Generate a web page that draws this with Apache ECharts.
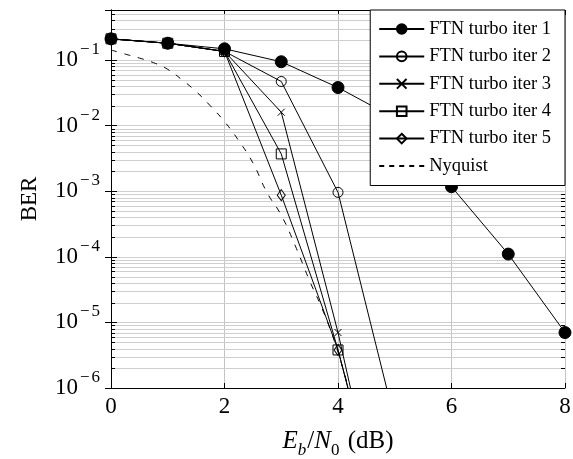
<!DOCTYPE html>
<html>
<head>
<meta charset="utf-8">
<script src="https://cdn.jsdelivr.net/npm/echarts@6/dist/echarts.min.js"></script>
<style>
html, body { margin: 0; padding: 0; background: #fff; }
#chart { width: 573px; height: 459px; }
</style>
</head>
<body>
<div id="chart"></div>
<script>
// Eb/N0 points (dB) for the turbo iterations
var ebno = [0, 1, 2, 3, 4, 5, 6, 7, 8];
var iter1 = [0.21, 0.18, 0.148, 0.094, 0.038, 0.013, 1.17e-3, 1.1e-4, 7.0e-6];
var iter2 = [0.21, 0.18, 0.135, 0.047, 9.6e-4, 3.2e-7];
var iter3 = [0.21, 0.18, 0.135, 0.016, 7.0e-6, 1e-9];
var iter4 = [0.21, 0.18, 0.135, 3.7e-3, 3.8e-6, 1.9e-9];
var iter5 = [0.21, 0.18, 0.135, 8.7e-4, 3.8e-6, 1.9e-9];

// Nyquist reference curve
var nyqX = [0, 0.25, 0.5, 0.75, 1, 1.25, 1.5, 1.75, 2, 2.25, 2.5, 2.75, 3, 3.25, 3.5, 3.75, 4, 4.25];
var nyqBer = [0.142, 0.123, 0.107, 0.091, 0.072, 0.050, 0.033, 0.020, 0.0115, 5.9e-3, 2.7e-3, 9.5e-4, 4.3e-4, 1.45e-4, 4.3e-5, 1.4e-5, 3.5e-6, 6e-7];

var names = ['FTN turbo iter 1', 'FTN turbo iter 2', 'FTN turbo iter 3', 'FTN turbo iter 4', 'FTN turbo iter 5', 'Nyquist'];
var xTicks = [0, 2, 4, 6, 8];
var yMin = 1e-6, yMax = 0.578;

// minor grid positions 2..9 x 10^k
var minorVals = [];
for (var k = -6; k <= -1; k++) {
	for (var m = 2; m <= 9; m++) {
		var v = m * Math.pow(10, k);
		if (v < yMax) minorVals.push(v);
	}
}

function pairs(xs, ys) {
	var out = [];
	ys.forEach(function (y, i) { out.push([xs[i], y]); });
	return out;
}

var font = 'Liberation Serif';
var gridColor = '#cfcfcf';
var clear = 'rgba(255,255,255,0)';

function lineSeries(name, data, symbol, size, fill) {
	return {
		name: name,
		type: 'line',
		data: data,
		symbol: symbol,
		symbolSize: size,
		showAllSymbol: true,
		lineStyle: { color: '#000', width: 1 },
		itemStyle: { color: fill, borderColor: '#000', borderWidth: 1 },
		emphasis: { disabled: true },
		z: 5
	};
}

var legendData = names.slice(0, 5).map(function (n) { return { name: n }; });
legendData.push({
	name: names[5],
	itemStyle: { color: clear, borderWidth: 0, opacity: 0 },
	lineStyle: { type: [5, 5] }
});

var myChart = echarts.init(document.getElementById('chart'));

var option = {
	animation: false,
	backgroundColor: '#fff',
	grid: { left: 111, right: 8, top: 10, bottom: 71, outerBoundsMode: 'none', containLabel: false },
	legend: {
		data: legendData,
		orient: 'vertical',
		right: 8,
		top: 10,
		backgroundColor: '#fff',
		borderColor: '#000',
		borderWidth: 1,
		padding: [9.5, 14, 10, 8],
		itemGap: 8.4,
		itemWidth: 45,
		itemHeight: 12,
		textStyle: { fontFamily: font, fontSize: 18.5, color: '#000' },
		z: 20
	},
	xAxis: [{
		type: 'value',
		min: 0, max: 8, interval: 2,
		axisLine: { show: true, lineStyle: { color: '#000', width: 1 } },
		axisTick: { show: true, inside: true, length: 5, lineStyle: { color: '#000' } },
		axisLabel: {
			margin: 7,
			fontFamily: font, fontSize: 23, color: '#000',
			formatter: function (v) { return xTicks.indexOf(v) >= 0 ? String(v) : ''; }
		},
		splitLine: { show: true, lineStyle: { color: '#c4c4c4', width: 1 } },
		name: '{i|E}{sb|b}{n|/}{i|N}{s0|0}{n| (dB)}',
		nameLocation: 'middle',
		nameGap: 41,
		nameTextStyle: {
			rich: {
				i: { fontFamily: font, fontStyle: 'italic', fontSize: 25, color: '#000', verticalAlign: 'top', lineHeight: 30 },
				n: { fontFamily: font, fontSize: 25, color: '#000', verticalAlign: 'top', lineHeight: 30 },
				sb: { fontFamily: font, fontStyle: 'italic', fontSize: 17, color: '#000', verticalAlign: 'bottom', lineHeight: 17, padding: [0, 1, 0, 0] },
				s0: { fontFamily: font, fontSize: 17, color: '#000', verticalAlign: 'bottom', lineHeight: 17, padding: [0, 2, 0, 0] }
			}
		}
	}, {
		type: 'value',
		position: 'top',
		min: 0, max: 8, interval: 2,
		axisLine: { show: true, lineStyle: { color: '#000', width: 1 } },
		axisTick: { show: true, inside: true, length: 5, lineStyle: { color: '#000' } },
		axisLabel: { show: false },
		splitLine: { show: false }
	}],
	yAxis: [{
		type: 'log',
		logBase: 10,
		min: yMin, max: yMax,
		axisLine: { show: true, lineStyle: { color: '#000', width: 1 } },
		axisTick: { show: true, inside: true, length: 6, lineStyle: { color: '#000' } },
		axisLabel: {
			margin: 11,
			showMaxLabel: false,
			formatter: function (v) {
				var e = Math.log10(v);
				var r = Math.round(e);
				if (Math.abs(e - r) > 1e-6) return '';
				return '{b|10}{m|\u2212}{s|' + Math.abs(r) + '}';
			},
			rich: {
				b: { fontFamily: font, fontSize: 23, color: '#000', lineHeight: 24, verticalAlign: 'middle' },
				m: { fontFamily: font, fontSize: 17, color: '#000', lineHeight: 17, verticalAlign: 'bottom', padding: [0, 2, 14, 2] },
				s: { fontFamily: font, fontSize: 17, color: '#000', lineHeight: 17, verticalAlign: 'bottom', padding: [0, 0, 14, 0] }
			}
		},
		splitLine: { show: true, lineStyle: { color: gridColor, width: 1 } },
		name: 'BER',
		nameLocation: 'middle',
		nameGap: 70,
		nameTextStyle: { fontFamily: font, fontSize: 23, color: '#000' }
	}, {
		type: 'log',
		logBase: 10,
		position: 'right',
		min: yMin, max: yMax,
		axisLine: { show: true, lineStyle: { color: '#000', width: 1 } },
		axisTick: { show: true, inside: true, length: 6, lineStyle: { color: '#000' } },
		axisLabel: { show: false },
		splitLine: { show: false }
	}],
	series: [
		{
			// minor grid lines and minor ticks on both sides
			type: 'custom',
			silent: true,
			data: minorVals.map(function (v) { return [0, v]; }),
			clip: true,
			z: 1,
			renderItem: function (params, api) {
				var a = api.coord([0, api.value(1)]);
				var b = api.coord([8, api.value(1)]);
				var y = Math.round(a[1]) + 0.5;
				return {
					type: 'group',
					children: [
						{ type: 'line', shape: { x1: a[0], y1: y, x2: b[0], y2: y }, style: { stroke: gridColor, lineWidth: 1 } },
						{ type: 'line', shape: { x1: a[0], y1: y, x2: a[0] + 4, y2: y }, style: { stroke: '#000', lineWidth: 1 }, z2: 3 },
						{ type: 'line', shape: { x1: b[0] - 4, y1: y, x2: b[0], y2: y }, style: { stroke: '#000', lineWidth: 1 }, z2: 3 }
					]
				};
			}
		},
		lineSeries(names[0], pairs(ebno, iter1), 'circle', 12, '#000'),
		lineSeries(names[1], pairs(ebno, iter2), 'circle', 10, clear),
		lineSeries(names[2], pairs(ebno, iter3), 'path://M0,0L10,10M10,0L0,10', 7, clear),
		lineSeries(names[3], pairs(ebno, iter4), 'rect', 10, clear),
		lineSeries(names[4], pairs(ebno, iter5), 'diamond', [8, 11], clear),
		{
			name: names[5],
			type: 'line',
			data: pairs(nyqX, nyqBer),
			smooth: true,
			symbol: 'none',
			lineStyle: { color: '#000', width: 1, type: [6, 8] },
			itemStyle: { color: '#000' },
			emphasis: { disabled: true },
			z: 4
		}
	]
};
myChart.setOption(option);
</script>
</body>
</html>
